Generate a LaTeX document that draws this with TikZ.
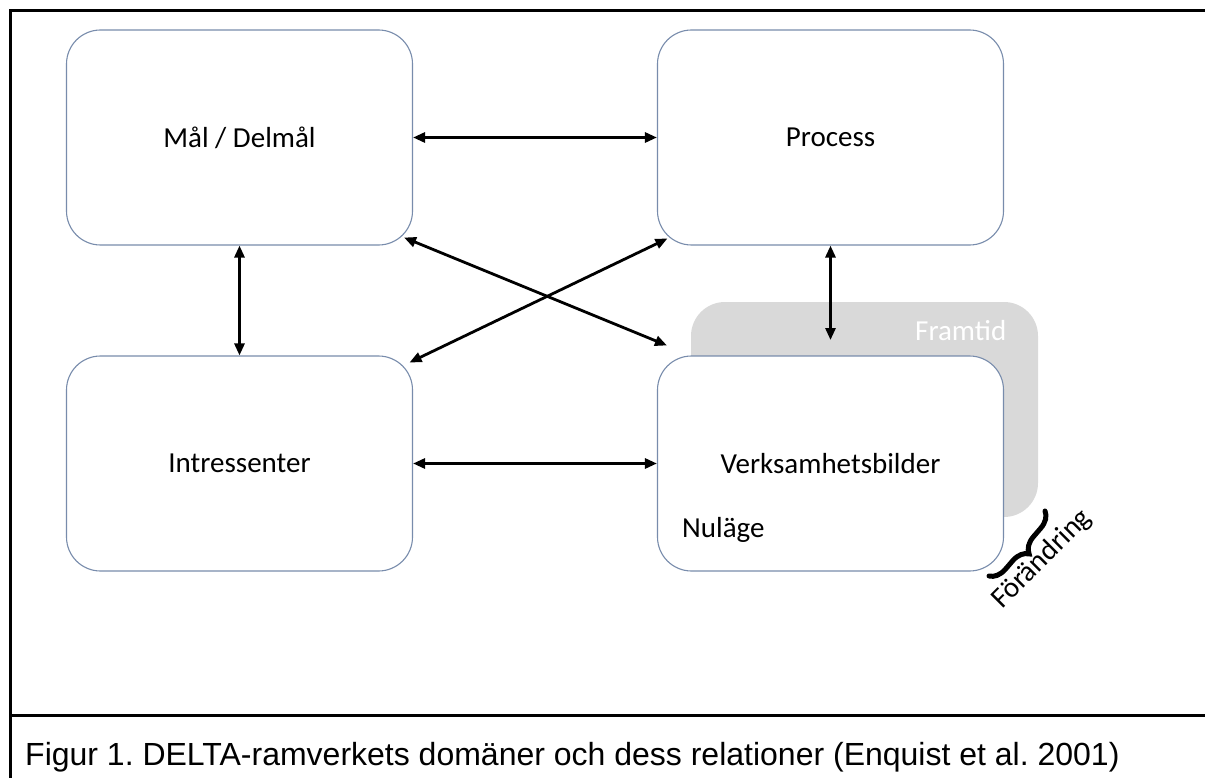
\documentclass[tikz,border=0pt]{standalone}
\usepackage{fontspec}
\setmainfont{Carlito}
\newfontfamily\capfont{Liberation Sans}
\usetikzlibrary{arrows.meta,decorations.pathreplacing,calc}
\frenchspacing
\definecolor{boxline}{RGB}{120,140,172}
\definecolor{futuregray}{RGB}{217,217,217}
\tikzset{
  deltabox/.style={draw=boxline, line width=1.1pt, fill=white, rounded corners=34pt,
    minimum width=346pt, minimum height=215pt, inner sep=0pt,
    font=\fontsize{29pt}{34pt}\selectfont},
  futurebox/.style={fill=futuregray, rounded corners=34pt,
    minimum width=347pt, minimum height=215pt, inner sep=0pt},
  plaintext/.style={inner sep=0pt, font=\fontsize{29pt}{34pt}\selectfont},
  biarrow/.style={line width=2.8pt,
    {Triangle[length=12pt,width=10pt]}-{Triangle[length=12pt,width=10pt]}},
  frameline/.style={line width=3pt, line cap=rect},
  bracestyle/.style={line width=5pt, line cap=round,
    decorate, decoration={brace, amplitude=16pt}}
}
\begin{document}
\begin{tikzpicture}[x=1pt, y=-1pt]
\useasboundingbox (0,0) rectangle (1205,778);
\fill[white] (0,0) rectangle (1205,778);

% outer frame and caption separator
\draw[frameline] (1206,10.5) -- (10.5,10.5) -- (10.5,779);
\draw[frameline] (10.5,715) -- (1206,715);

% future state behind the current-state box
\node[futurebox] (future) at (864.5,409.5) {};

% the four domains
\node[deltabox] (mal)     at (239.5,137.5) {Mål / Delmål};
\node[deltabox] (process) at (830.5,137.5) {Process};
\node[deltabox] (intr)    at (239.5,463.5) {Intressenter};
\node[deltabox] (verk)    at (830.5,463.5) {Verksamhetsbilder};

% labels
\node[plaintext, anchor=base west, text=white] (framtid) at (915,340) {Framtid};
\node[plaintext, anchor=base west] (nulage) at (682,537) {Nuläge};
\node[plaintext, anchor=base west, rotate=45] (forandring) at (1002,610) {Förändring};

% brace marking the change
\coordinate (braceA) at (1045,511);
\coordinate (braceB) at (989,576);
\draw[bracestyle] (braceA) -- (braceB);

% relations
\coordinate (ptip) at (830.5,340);
\draw[biarrow] (mal.east) -- (process.west);
\draw[biarrow] (intr.east) -- (verk.west);
\draw[biarrow] (mal.south) -- (intr.north);
\draw[biarrow] (process.south) -- (ptip);
\draw[biarrow] ($(mal.south east)+(-9,-8)$) -- ($(verk.north west)+(10,-10)$);
\draw[biarrow] ($(process.south west)+(10.5,-7)$) -- ($(intr.north east)+(-3.5,7)$);

% caption
\node[anchor=base west, inner sep=0pt, font=\capfont\fontsize{32pt}{38pt}\selectfont]
  (caption) at (25,765) {Figur 1. DELTA-ramverkets domäner och dess relationer (Enquist et al. 2001)};
\end{tikzpicture}
\end{document}
